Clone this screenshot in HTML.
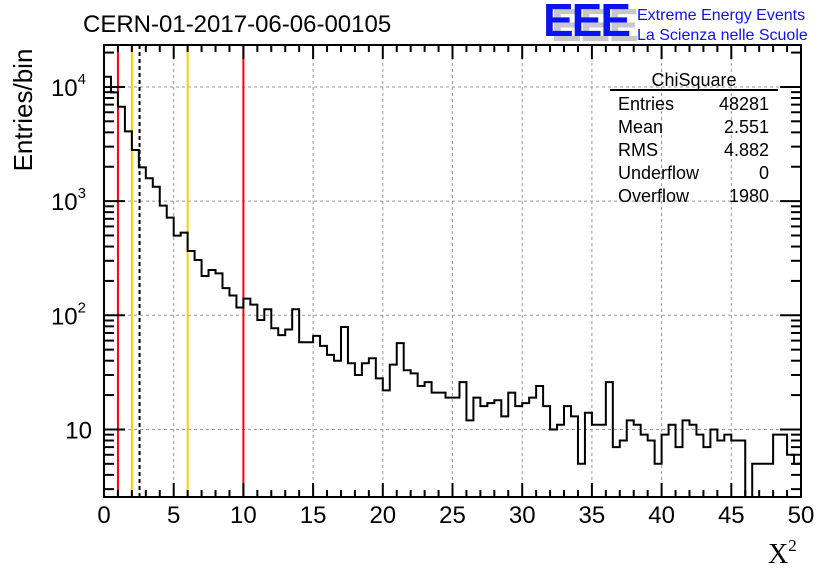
<!DOCTYPE html>
<html><head><meta charset="utf-8"><style>
html,body{margin:0;padding:0;background:#fff;}
svg{display:block;font-family:"Liberation Sans",sans-serif;}
</style></head><body>
<svg id="chart" width="836" height="572" viewBox="0 0 836 572" xmlns="http://www.w3.org/2000/svg">
<rect width="836" height="572" fill="#fff"/>
<text x="83" y="32" font-size="24">CERN-01-2017-06-06-00105</text>
<g>
<text x="551" y="41" font-size="46" font-weight="bold" fill="#c8c8c8" letter-spacing="-2">EEE</text>
<text x="543" y="36" font-size="46" font-weight="bold" fill="#0a14f0" letter-spacing="-2">EEE</text>
<text x="637" y="20" font-size="16" fill="#1010f0">Extreme Energy Events</text>
<text x="637" y="40" font-size="16" fill="#1010f0">La Scienza nelle Scuole</text>
</g>
<g id="grid"></g>
<g id="vlines"></g>
<path id="hist" fill="none" stroke="#000" stroke-width="2"/>
<g id="axes"></g>
<text transform="translate(32,110) rotate(-90)" text-anchor="middle" font-size="26">Entries/bin</text>
<text x="768" y="563" font-size="28" font-family="Liberation Serif,serif">X<tspan font-size="17" dy="-12">2</tspan></text>
<g font-size="18">
<text x="694" y="86" text-anchor="middle">ChiSquare</text>
<line x1="610" y1="90" x2="778" y2="90" stroke="#000" stroke-width="2"/>
<text x="618" y="110">Entries</text><text x="769" y="110" text-anchor="end">48281</text>
<text x="618" y="133">Mean</text><text x="769" y="133" text-anchor="end">2.551</text>
<text x="618" y="156">RMS</text><text x="769" y="156" text-anchor="end">4.882</text>
<text x="618" y="179">Underflow</text><text x="769" y="179" text-anchor="end">0</text>
<text x="618" y="202">Overflow</text><text x="769" y="202" text-anchor="end">1980</text>
</g>
</svg>
<script>
const counts=[12270,8970,6710,4085,2800,1977,1585,1337,912,716,
498,529,366,305,221,249,233,173,149,117,
140,124,91,113,77,67,75,113,58,58,
66,54,45,40,79,38,30,38,42,28,
22,37,57,33,31,24,26,21,21,19,
19,26,12,19,16,17,18,13,21,16,
17,19,24,16,10,11,16,13,5,14,
11,11,26,7,8,12,11,9,8,5,
9,11,7,12,11,9,7,10,8,9,
8,8,0,5,5,5,9,9,6,5];
const xTicks=[0,5,10,15,20,25,30,35,40,45,50];
const yDecades=[1,2,3,4];
const xRange=[0,50];
const yRange=[2.56,23300];
const markers=[{v:1,c:"#f00",d:""},{v:10,c:"#f00",d:""},{v:2,c:"#fc0",d:""},{v:6,c:"#fc0",d:""},{v:2.551,c:"#000",d:"4,3"}];
const L=104,R=801,T=45,B=497;
const NS="http://www.w3.org/2000/svg";
const sx=v=>L+(v-xRange[0])/(xRange[1]-xRange[0])*(R-L);
const ly=[Math.log10(yRange[0]),Math.log10(yRange[1])];
const sy=v=>v<=0?B+5:B-(Math.log10(v)-ly[0])/(ly[1]-ly[0])*(B-T);
function mk(tag,attrs,parent){const e=document.createElementNS(NS,tag);for(const k in attrs)e.setAttribute(k,attrs[k]);parent.appendChild(e);return e;}
const grid=document.getElementById('grid'),axes=document.getElementById('axes'),vl=document.getElementById('vlines');
xTicks.forEach(t=>{if(t>0&&t<50){const g=mk('line',{x1:sx(t),x2:sx(t),y1:T,y2:B,stroke:'#999','stroke-dasharray':'3,3','stroke-width':1},grid);

}});
yDecades.forEach(d=>{const y=sy(Math.pow(10,d));const g=mk('line',{x1:L,x2:R,y1:y,y2:y,stroke:'#999','stroke-dasharray':'3,3','stroke-width':1},grid);

});
markers.forEach(m=>{const l=mk('line',{x1:sx(m.v),x2:sx(m.v),y1:T,y2:B,stroke:m.c,'stroke-width':2},vl);if(m.d)l.setAttribute('stroke-dasharray',m.d);

});
const bw=(xRange[1]-xRange[0])/counts.length;
let d='M'+sx(0)+','+B;
counts.forEach((c,i)=>{const y=Math.min(sy(c),B);d+=' L'+sx(i*bw)+','+y+' L'+sx((i+1)*bw)+','+y;});
document.getElementById('hist').setAttribute('d',d);
const fr=mk('rect',{x:L,y:T,width:R-L,height:B-T,fill:'none',stroke:'#000','stroke-width':2},axes);


for(let v=0;v<=50;v++){const x=sx(v),len=v%5===0?14:7;
mk('line',{x1:x,x2:x,y1:B,y2:B-len,stroke:'#000','stroke-width':2},axes);
mk('line',{x1:x,x2:x,y1:T,y2:T+len,stroke:'#000','stroke-width':2},axes);}
xTicks.forEach(t=>{const tx=mk('text',{x:sx(t),y:523,'text-anchor':'middle','font-size':24},axes);tx.textContent=t;

});
for(let d2=0;d2<=4;d2++){for(let m=1;m<=9;m++){const v=m*Math.pow(10,d2);if(v<yRange[0]||v>yRange[1])continue;const y=sy(v),len=m===1?21:10;
mk('line',{x1:L,x2:L+len,y1:y,y2:y,stroke:'#000','stroke-width':2},axes);
mk('line',{x1:R,x2:R-len,y1:y,y2:y,stroke:'#000','stroke-width':2},axes);}}
yDecades.forEach(dd=>{const y=sy(Math.pow(10,dd));const tx=mk('text',{x:dd===1?92:86,y:y+9,'text-anchor':'end','font-size':24},axes);


if(dd===1){tx.textContent='10';}else{tx.textContent='10';const ts=mk('tspan',{'font-size':15,dy:-12},tx);ts.textContent=dd;}});
</script>
</body></html>
